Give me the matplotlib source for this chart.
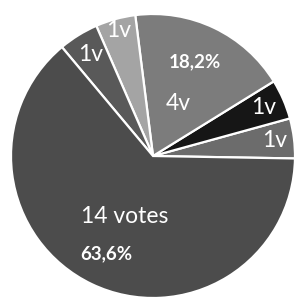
import numpy as np
import matplotlib.pyplot as plt

# slices, counter-clockwise from the right
votes = [1, 1, 4, 1, 1, 14]
names = ["1v", "1v", "4v", "1v", "1v", "14 votes"]
show_pct = [False, False, True, False, False, True]
colors = ["#6c6c6c", "#161616", "#7c7c7c", "#a4a4a4", "#595959", "#4c4c4c"]

# label radii (name, percent) as fraction of pie radius
name_r = [0.86, 0.85, 0.41, 0.92, 0.84, 0.47]
pct_r = [None, None, 0.73, None, None, 0.76]

plt.rcParams['font.family'] = ['Lato', 'DejaVu Sans']

fig = plt.figure(figsize=(2.98, 3.02), dpi=100)
ax = fig.add_axes([11 / 298, 4 / 302, 284 / 298, 284 / 302])

wedges, _ = ax.pie(votes, colors=colors, startangle=-1, counterclock=True,
                   radius=1, wedgeprops=dict(edgecolor="white", linewidth=1.6))

total = sum(votes)
for w, v, name, rn, rp, sp in zip(wedges, votes, names, name_r, pct_r, show_pct):
    mid = np.deg2rad((w.theta1 + w.theta2) / 2)
    ax.text(rn * np.cos(mid), rn * np.sin(mid), name, color="white",
            fontsize=16.5, ha="center", va="center")
    if sp:
        a = mid + (np.deg2rad(1.5) if v == 4 else 0)
        pct = f"{100 * v / total:.1f}%".replace(".", ",")
        ax.text(rp * np.cos(a), rp * np.sin(a), pct, color="white",
                fontsize=13.5, fontweight="bold", ha="center", va="center")

ax.set_xlim(-1, 1)
ax.set_ylim(-1, 1)
ax.axis("off")
fig.savefig("out.png", dpi=100)
